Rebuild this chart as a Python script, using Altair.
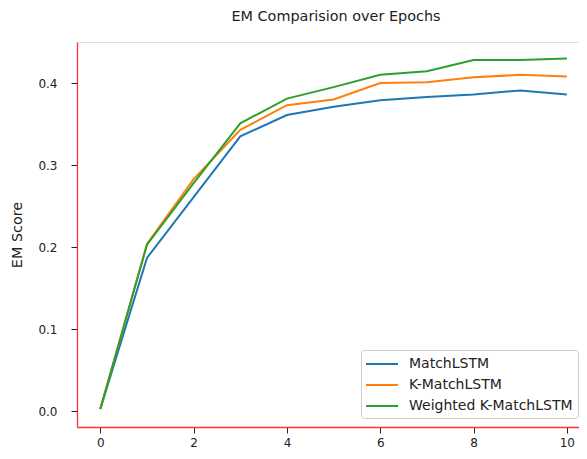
import altair as alt
import pandas as pd

epochs = list(range(11))
series_names = ["MatchLSTM", "K-MatchLSTM", "Weighted K-MatchLSTM"]
match_lstm = [0.003, 0.187, 0.261, 0.335, 0.361, 0.371, 0.379, 0.383, 0.386, 0.391, 0.386]
k_match_lstm = [0.003, 0.204, 0.283, 0.343, 0.373, 0.380, 0.400, 0.401, 0.407, 0.410, 0.408]
weighted_k_match_lstm = [0.003, 0.203, 0.278, 0.351, 0.381, 0.395, 0.410, 0.4145, 0.428, 0.428, 0.430]
colors = ["#1f77b4", "#ff7f0e", "#2ca02c"]
x_ticks = [0, 2, 4, 6, 8, 10]
y_ticks = [0.0, 0.1, 0.2, 0.3, 0.4]

rows = []
for name, vals in zip(series_names, [match_lstm, k_match_lstm, weighted_k_match_lstm]):
    for e, v in zip(epochs, vals):
        rows.append({"epoch": e, "score": v, "model": name})
df = pd.DataFrame(rows)

FONT = "DejaVu Sans"

chart = alt.Chart(df).mark_line(strokeWidth=2).encode(
    x=alt.X("epoch:Q",
            scale=alt.Scale(domain=[-0.5, 10.26], nice=False, zero=False),
            axis=alt.Axis(values=x_ticks, title=None, grid=False,
                          domainColor="#ff3333", domainWidth=1.3,
                          tickColor="#222222", tickSize=6, tickWidth=1,
                          labelPadding=4, labelFontSize=12, labelColor="#222222",
                          labelFont=FONT)),
    y=alt.Y("score:Q",
            scale=alt.Scale(domain=[-0.019, 0.45], nice=False, zero=False),
            axis=alt.Axis(values=y_ticks, format=".1f", title="EM Score", grid=False,
                          domainColor="#ff3333", domainWidth=1.3,
                          tickColor="#222222", tickSize=6, tickWidth=1,
                          labelPadding=14, labelFontSize=12, labelColor="#222222",
                          labelFont=FONT,
                          titleFont=FONT, titleFontSize=14.4, titleFontWeight="normal",
                          titleColor="#222222", titleAngle=270, titleX=-56, titleY=192.5,
                          titleAlign="center", titleBaseline="alphabetic")),
    color=alt.Color("model:N",
                    scale=alt.Scale(domain=series_names, range=colors),
                    sort=series_names,
                    legend=alt.Legend(title=None, orient="none", legendX=284, legendY=308,
                                      fillColor="white", strokeColor="#cccccc",
                                      cornerRadius=3, padding=5,
                                      symbolType="M-1.125,0H2.875", symbolSize=256,
                                      symbolStrokeWidth=2, labelOffset=25, rowPadding=5,
                                      labelFont=FONT, labelFontSize=14, labelLimit=300,
                                      labelColor="#222222")),
    order=alt.Order("epoch:Q"),
).properties(
    width=502,
    height=385,
    title=alt.TitleParams("EM Comparision over Epochs", font=FONT, fontSize=14.4,
                          fontWeight="normal", color="#222222", anchor="middle",
                          baseline="alphabetic", offset=7, dx=8),
    autosize=alt.AutoSizeParams(type="none"),
    padding={"left": 69, "top": 34, "right": 0, "bottom": 24},
).configure_view(stroke=None).configure(background="white")

chart.save("out.html", embed_options={"renderer": "svg", "actions": False})
